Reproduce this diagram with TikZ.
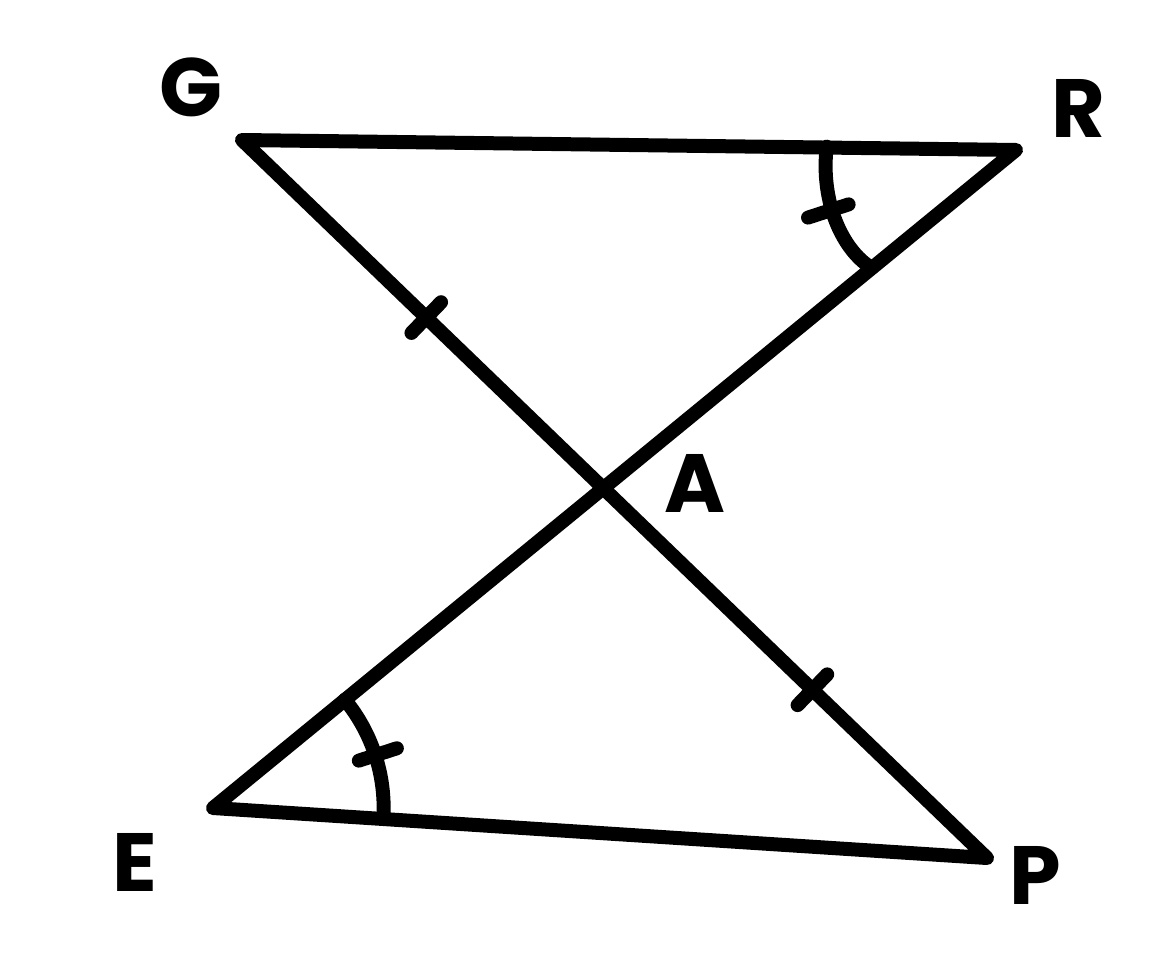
\documentclass[tikz,border=0pt]{standalone}
\usepackage{fontspec}
\newfontfamily\lblfont{Poppins}
\usetikzlibrary{calc}
\begin{document}
\begin{tikzpicture}[x=0.75pt,y=-0.75pt, line width=10.5pt, line cap=round, line join=round,
  lbl/.style={font=\lblfont\bfseries\fontsize{62}{62}\selectfont, inner sep=0pt}]
\useasboundingbox (0,0) rectangle (1166,956);
\coordinate (G) at (242,140);
\coordinate (R) at (1016,150);
\coordinate (E) at (213,808);
\coordinate (P) at (987,858);
\coordinate (A) at (intersection of G--P and R--E);
\draw (G) -- (R) -- (E) -- (P) -- cycle;
% side ticks
\coordinate (T1) at ($(G)!0.51!(A)$);
\coordinate (T2) at ($(A)!0.545!(P)$);
\draw ($(T1)!16pt!90:(A)$) -- ($(T1)!16pt!-90:(A)$);
\draw ($(T2)!16pt!90:(P)$) -- ($(T2)!16pt!-90:(P)$);
% angle arcs
\draw ([shift={(179:142pt)}]R) .. controls ([shift={(195:152pt)}]R) and ([shift={(210:150pt)}]R) .. ([shift={(219:140pt)}]R);
\draw ([shift={(198:132pt)}]R) -- ([shift={(198:164pt)}]R);
\draw ([shift={(39.4:128pt)}]E) arc[start angle=39.4, end angle=-3.7, radius=128pt];
\draw ([shift={(18:115pt)}]E) -- ([shift={(18:145pt)}]E);
% labels
\node[lbl] (lG) at (191,87) {G};
\node[lbl] (lR) at (1078,108) {R};
\node[lbl] (lA) at (695,483) {A};
\node[lbl] (lE) at (135,862) {E};
\node[lbl] (lP) at (1035,875) {P};
\end{tikzpicture}
\end{document}
